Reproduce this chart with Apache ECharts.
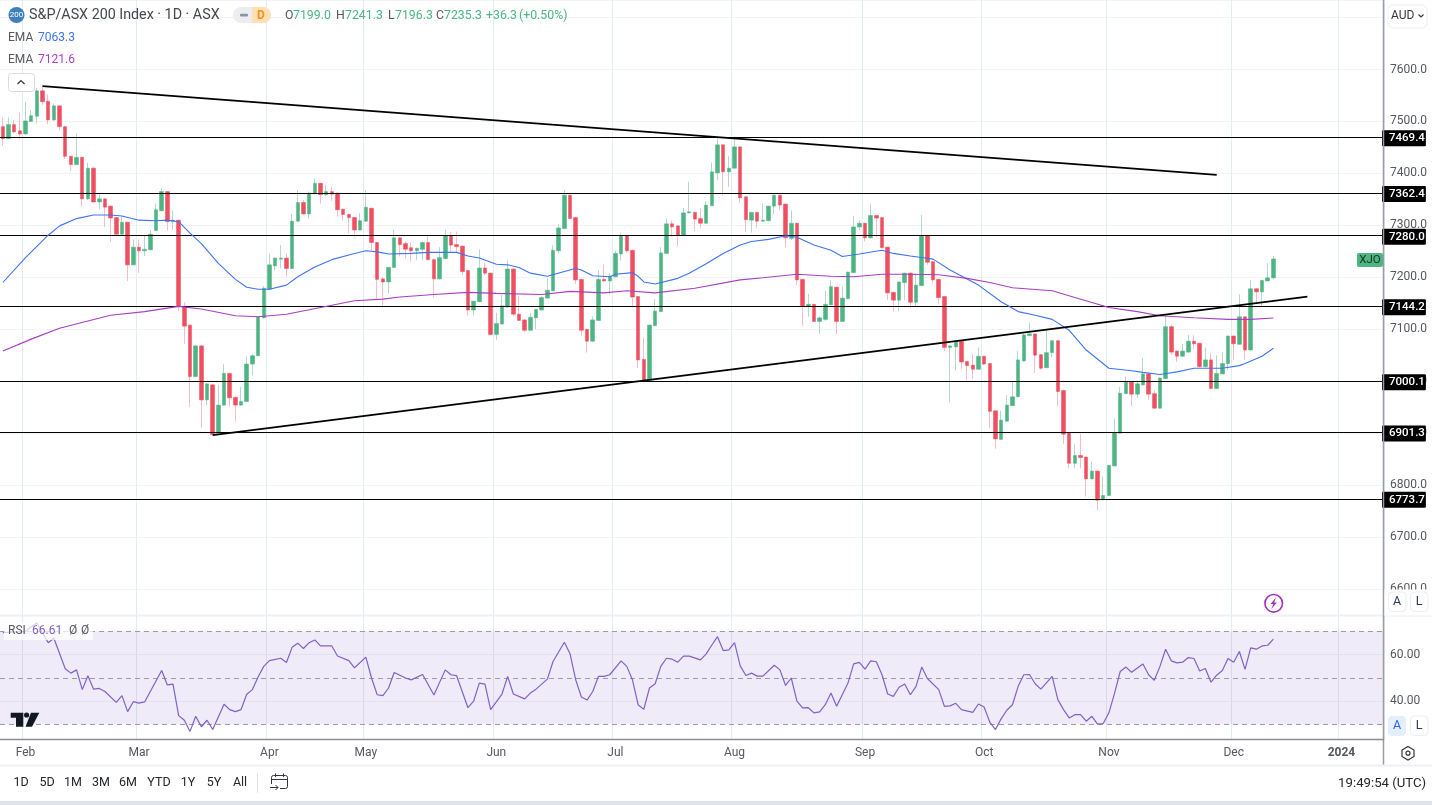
<!DOCTYPE html>
<html>
<head>
<meta charset="utf-8">
<title>S&amp;P/ASX 200 Index</title>
<style>html,body{margin:0;padding:0;background:#fff}#c{width:1432px;height:805px}</style>
<script src="https://cdn.jsdelivr.net/npm/echarts@6/dist/echarts.min.js"></script>
</head>
<body>
<div id="c"></div>
<script>
const opens = [
7490,7467,7494,7482,7476,7500,7510,7559,7539,7503,
7530,7490,7433,7417,7431,7351,7410,7345,7351,7337,
7315,7283,7306,7224,7258,7251,7253,7290,7328,7365,
7307,7310,7144,7108,7009,7068,6964,6993,6900,6954,
7015,6969,6954,6961,7033,7049,7122,7177,7222,7235,
7237,7217,7308,7344,7322,7362,7381,7359,7365,7362,
7331,7321,7315,7291,7308,7333,7267,7197,7191,7219,
7276,7265,7257,7251,7254,7267,7234,7197,7236,7280,
7263,7260,7213,7137,7153,7218,7208,7090,7110,7143,
7216,7129,7118,7098,7122,7137,7160,7174,7251,7294,
7358,7315,7196,7100,7077,7117,7196,7193,7201,7245,
7280,7252,7163,7042,7002,7107,7134,7246,7303,7299,
7281,7324,7325,7313,7304,7338,7401,7455,7403,7410,
7451,7355,7310,7325,7308,7309,7337,7358,7341,7275,
7304,7196,7144,7148,7115,7119,7147,7181,7115,7159,
7209,7297,7304,7276,7319,7315,7258,7171,7156,7190,
7208,7152,7184,7280,7230,7196,7163,7065,7066,7077,
7038,7031,7023,7048,7034,6943,6888,6923,6953,6970,
7039,7088,7091,7051,7026,7055,7078,6982,6900,6842,
6857,6854,6812,6827,6772,6780,6837,6900,6976,6998,
6975,6993,7014,6976,6948,7005,7105,7058,7048,7056,
7077,7073,7028,7041,6986,7014,7034,7087,7071,7124,
7060,7178,7172,7193,7199.0];
const closes = [
7467,7494,7480,7476,7501,7511,7559,7538,7503,7530,
7490,7433,7417,7431,7351,7410,7345,7351,7335,7314,
7283,7306,7224,7258,7251,7254,7283,7330,7365,7307,
7310,7144,7106,7009,7068,6964,6995,6897,6954,7015,
6968,6954,6961,7033,7049,7124,7179,7224,7237,7237,
7217,7308,7344,7322,7362,7381,7359,7365,7360,7330,
7321,7315,7291,7309,7335,7267,7196,7191,7219,7276,
7263,7254,7251,7256,7267,7234,7197,7238,7280,7262,
7259,7211,7137,7154,7218,7208,7090,7111,7145,7216,
7129,7117,7098,7123,7138,7161,7175,7252,7295,7358,
7313,7195,7098,7077,7118,7196,7193,7202,7246,7280,
7251,7162,7041,7001,7108,7135,7247,7303,7297,7281,
7324,7326,7312,7304,7339,7403,7455,7403,7410,7451,
7353,7311,7325,7308,7310,7337,7358,7339,7276,7304,
7195,7144,7148,7115,7122,7148,7182,7115,7160,7210,
7297,7304,7276,7319,7314,7257,7170,7156,7191,7208,
7152,7185,7280,7229,7195,7161,7065,7068,7077,7037,
7030,7023,7048,7033,6942,6889,6925,6954,6970,7041,
7089,7091,7050,7025,7055,7078,6980,6898,6842,6857,
6853,6812,6827,6771,6780,6838,6901,6977,6998,6975,
6995,7014,6975,6948,7006,7105,7056,7048,7058,7077,
7072,7028,7041,6986,7015,7034,7087,7072,7124,7060,
7178,7172,7194,7199,7235.3];
const lows = [
7453,7466,7477,7466,7475,7499,7496,7532,7495,7501,
7483,7428,7405,7416,7336,7349,7344,7331,7297,7268,
7282,7282,7193,7223,7208,7241,7252,7289,7327,7290,
7291,7134,7072,6951,7008,6911,6954,6895,6897,6953,
6951,6923,6953,6960,7011,7048,7121,7176,7213,7217,
7201,7216,7307,7321,7313,7361,7342,7356,7347,7317,
7310,7285,7275,7290,7307,7252,7159,7142,7168,7218,
7240,7236,7230,7233,7233,7233,7161,7196,7235,7249,
7248,7204,7127,7127,7152,7204,7089,7079,7109,7142,
7125,7116,7094,7097,7100,7136,7159,7173,7246,7293,
7312,7187,7088,7055,7076,7116,7190,7166,7200,7232,
7247,7145,7025,7000,7001,7106,7133,7245,7279,7260,
7280,7323,7289,7294,7303,7337,7387,7357,7374,7409,
7344,7287,7286,7295,7307,7308,7322,7329,7258,7272,
7185,7107,7124,7114,7091,7116,7146,7091,7114,7158,
7208,7291,7269,7275,7277,7256,7156,7134,7134,7156,
7140,7145,7183,7224,7188,7149,7058,6959,7021,7023,
7002,7004,7022,7031,6909,6870,6887,6922,6952,6969,
7038,7086,7016,7022,7025,7046,6952,6879,6832,6832,
6832,6778,6811,6751,6770,6779,6836,6899,6975,6953,
6968,6992,6964,6947,6947,7004,7050,7037,7047,7055,
7062,7027,7027,6985,6985,7013,7021,7041,7070,7041,
7059,7151,7143,7192,7196.3];
const highs = [
7508,7508,7503,7517,7538,7522,7564,7568,7552,7535,
7531,7491,7434,7477,7432,7421,7413,7362,7352,7338,
7316,7317,7307,7273,7273,7281,7291,7342,7371,7366,
7328,7311,7152,7109,7069,7069,6996,6994,6993,7033,
7016,6970,6989,7047,7052,7125,7183,7246,7238,7262,
7246,7322,7368,7349,7365,7390,7382,7378,7374,7363,
7332,7322,7316,7323,7368,7334,7268,7201,7220,7292,
7277,7269,7267,7257,7269,7281,7235,7258,7292,7288,
7288,7261,7214,7155,7254,7228,7209,7132,7166,7233,
7217,7164,7119,7131,7139,7164,7198,7262,7303,7368,
7359,7316,7197,7101,7125,7214,7224,7208,7251,7286,
7281,7253,7164,7084,7109,7158,7258,7313,7309,7300,
7333,7384,7326,7333,7346,7421,7472,7456,7433,7471,
7452,7356,7326,7326,7342,7338,7359,7359,7342,7329,
7305,7197,7168,7149,7125,7174,7195,7182,7182,7211,
7318,7310,7305,7341,7320,7316,7259,7172,7192,7209,
7209,7208,7320,7281,7231,7197,7164,7069,7079,7078,
7039,7052,7065,7049,7035,6944,6943,6973,6999,7058,
7095,7113,7092,7052,7100,7079,7079,6983,6901,6879,
6898,6855,6845,6828,6816,6839,6928,6989,7009,6999,
6999,7045,7015,6982,7007,7127,7108,7059,7072,7089,
7089,7074,7065,7054,7050,7056,7088,7088,7167,7125,
7195,7179,7195,7227,7241.3];

// EMA read at the candle numbers listed beside them
const emaFastIdx = [0,4,8,10,13,16,19,21,24,27,29,31,33,35,38,41,43,45,47,50,52,55,58,61,64,66,68,72,75,80,82,84,87,89,91,93,96,99,101,102,104,107,108,111,112,113,115,119,121,124,127,130,132,135,138,140,143,146,148,151,155,157,160,162,164,167,172,176,179,182,185,188,191,195,199,201,204,207,210,215,218,219,222,224];
const emaFastVals = [7190,7238,7281,7299,7313,7320,7320,7318,7310,7309,7310,7307,7285,7265,7227,7196,7181,7177,7177,7185,7201,7220,7234,7243,7251,7249,7245,7246,7248,7248,7241,7237,7225,7224,7219,7208,7202,7211,7217,7214,7203,7201,7206,7209,7202,7191,7187,7198,7208,7226,7246,7262,7269,7273,7280,7277,7262,7252,7240,7245,7252,7246,7241,7238,7235,7214,7185,7153,7134,7127,7119,7098,7060,7025,7020,7017,7013,7018,7025,7025,7030,7034,7048,7063.3];
const emaSlowIdx = [0,5,10,15,19,25,31,35,41,45,50,56,62,67,70,76,82,87,95,100,106,110,115,122,130,134,140,146,150,155,160,165,170,174,178,185,189,195,200,204,210,216,220,224];
const emaSlowVals = [7058,7081,7102,7116,7127,7134,7144,7139,7126,7124,7129,7142,7155,7158,7162,7167,7171,7169,7167,7173,7170,7174,7170,7179,7195,7199,7206,7202,7201,7206,7206,7205,7198,7190,7180,7174,7161,7142,7134,7126,7122,7119,7119,7121.6];

const rsiIdx = [0,4,6,8,9,11,12,13,14,15,16,17,18,20,21,22,23,24,25,26,28,29,30,31,32,33,34,35,36,37,39,40,41,42,43,44,45,46,47,49,50,51,52,53,54,55,56,58,59,61,62,64,65,66,67,68,69,71,72,74,76,78,79,80,82,83,84,85,86,88,89,90,92,93,94,96,97,99,100,101,102,103,104,105,106,107,109,110,111,112,113,114,115,116,117,118,119,120,121,123,124,125,126,127,128,129,130,131,132,133,134,136,137,138,139,140,141,142,143,144,145,146,147,149,150,151,152,153,154,155,156,157,158,159,160,161,162,163,165,166,167,168,169,171,172,173,174,175,176,177,178,179,180,181,182,183,185,186,187,188,189,190,191,192,193,194,195,196,197,198,199,201,202,203,204,205,206,207,208,209,210,211,212,213,214,215,216,217,218,219,220,221,222,223,224];
const rsiVals = [69.4,70,73.7,65.1,67,53.9,52,53.4,44.9,50.9,45.1,45.4,44.1,39.4,42.3,35.4,39.7,39.1,39.6,44.1,53.1,46.9,47.3,33.7,31.7,26.9,33.4,28.9,31.7,27.7,38.6,36.3,35.4,36.3,42.9,44.9,50.3,54.9,57.4,58.4,56.6,63.1,64.9,62.6,65.1,66.3,63.7,63.7,59.4,57.4,54.3,58.9,49.9,42.7,42.3,45.6,52.3,49.9,49.1,51.4,42.6,53.4,51.3,50.9,37.1,39.9,47.7,47.3,36.3,43,50.6,43,40.9,43.4,45.1,49.4,57,65.3,60.3,49.1,41.7,40.4,44.1,50.6,50.6,51.3,57.3,54.9,49.1,38.4,36.4,45.6,47.4,54.9,58.4,58,56.7,59.3,59.3,57.7,60.3,64.1,67.7,61.7,62,65.1,55.1,51,52,50.7,50.7,55.4,53.4,46.7,49.9,39.9,37,37.1,34.9,35.3,38.4,43.4,37.7,47.7,56,56.6,53.7,57.3,56.9,51.3,43,42,45.9,47.3,42.7,46.3,54.6,49.7,44.9,37.7,37.9,39,36.3,35.1,38.7,37.4,30.9,27.7,32.3,36,38.4,46.3,51.3,51.4,47.4,45.1,50.6,40.6,36.3,32.7,34.1,34.1,31.3,33.4,30,30.3,34.9,43.4,52.7,54.6,52.4,55.9,51.3,48.9,54.9,62.3,57.3,56.4,56.7,58.7,58.3,52.9,54,48.1,51.1,53.1,58.3,56.7,61.3,53.6,62.9,62.3,63.7,64,66.61];

const levels = [7469.4,7362.4,7280.0,7144.2,7000.1,6901.3,6773.7];
const resistanceLine = [[7,7568],[214,7397]];
const supportLine = [[37,6896],[230,7163]];
const monthIdx = [4,24,47,64,87,108,129,152,173,195,217,236];
const monthLabels = ['Feb','Mar','Apr','May','Jun','Jul','Aug','Sep','Oct','Nov','Dec','2024'];
const rsiGuidesDashed = [70,50,30];
const rsiGuidesSolid = [60,40];
const rsiTicks = [40,60];

// trading calendar (ASX holidays skipped) running past the last candle
const holidays = ['2023-01-26','2023-04-07','2023-04-10','2023-04-25','2023-06-12','2023-12-25','2023-12-26','2024-01-01'];
const categories = [];
for (let t = Date.UTC(2023,0,25); categories.length < 244; t += 86400000) {
  const d = new Date(t), s = d.toISOString().slice(0,10), w = d.getUTCDay();
  if (w !== 0 && w !== 6 && !holidays.includes(s)) categories.push(s);
}

const FONT = 'Roboto, "Liberation Sans", sans-serif';
const GREEN = '#4cb583', RED = '#ef4f60', GREEN_W = '#b4d9ca', RED_W = '#f8bcc4';
const BLUE = '#3d74f5', PURPLE = '#a83fc0', RSI = '#8160c8';
const TXT = '#55585f';

const wickData = opens.map((o,i) => [o, closes[i], lows[i], highs[i]]);
const bodyData = opens.map((o,i) => [o, closes[i], Math.min(o,closes[i]), Math.max(o,closes[i])]);
const pairs = (a,b) => a.map((x,i) => [x,b[i]]);

const X = {left:-1.14, width:1385.14};
const hiddenX = g => ({type:'category', gridIndex:g, data:categories, boundaryGap:true, show:false});
const isMonth = (i) => monthIdx.includes(i);

const t = (x,y,text,o={}) => ({type:'text', z:100, x, y:y+0.8, silent:true, style:Object.assign({
  text, fill:TXT, fontFamily:FONT, fontSize:12, textVerticalAlign:'middle', verticalAlign:'middle'}, o)});
const r = (x,y,w,h,fill,stroke,rad=0) => ({type:'rect', z:99, silent:true,
  shape:{x,y,width:w,height:h,r:rad}, style:{fill:fill||'none', stroke:stroke||'none', lineWidth:1}});
const l = (x1,y1,x2,y2,c,w=1) => ({type:'line', z:98, silent:true, shape:{x1,y1,x2,y2}, style:{stroke:c,lineWidth:w}});

const ohlc = [[285,'O',TXT],[293,'7199.0',GREEN],[336,'H',TXT],[345,'7241.3',GREEN],[388,'L',TXT],[395,'7196.3',GREEN],[436,'C',TXT],[444,'7235.3',GREEN],[486,'+36.3',GREEN],[519,'(+0.50%)',GREEN]];
const ranges = [[21,'1D'],[47,'5D'],[73,'1M'],[101,'3M'],[128,'6M'],[159,'YTD'],[188,'1Y'],[214,'5Y'],[240,'All']];

const graphics = [
  // panel frames
  r(1384.5,589.5,48,26,'#fff'),
  l(0,615.5,1432,615.5,'#eef0f5',2),
  l(1383.5,0,1383.5,765,'#9a9da3',1.5),
  l(0,739.5,1384,739.5,'#8a8d93',1.5),
  l(0,765.5,1432,765.5,'#eef0f5',2),
  r(0,801,1432,4,'#e0e3eb'),
  // header
  {type:'circle',z:99,silent:true,shape:{cx:16.5,cy:15,r:8},style:{fill:'#3f7fbe'}},
  t(16.5,14.2,'200',{fill:'#fff',fontSize:8,align:'center',textAlign:'center'}),
  t(29,14.7,'S&P/ASX 200 Index · 1D · ASX',{fontSize:14.3,fill:'#44474e'}),
  r(233,7,38,16,'#ebedf0',null,8),
  r(252,7,19,16,'#ffe0b5',null,[0,8,8,0]),
  r(240,13.8,8,2.8,'#8f939a',null,1),
  t(261,14.7,'D',{fill:'#f7921e',fontSize:12,fontWeight:'bold',align:'center',textAlign:'center'}),
  ...ohlc.map(([x,s,c]) => t(x,14.7,s,{fill:c,fontSize:12.3})),
  t(8,37.5,'EMA',{fontSize:12}), t(38,37.5,'7063.3',{fill:'#3d74f5',fontSize:12}),
  t(8,59.5,'EMA',{fontSize:12}), t(38,59.5,'7121.6',{fill:'#a83fc0',fontSize:12}),
  r(8.5,73.5,26,18,'#fff','#d8dbe0',3),
  {type:'polyline',z:100,silent:true,shape:{points:[[17.5,84],[21,80.5],[24.5,84]]},style:{fill:'none',stroke:'#333',lineWidth:1.2}},
  // right axis furniture
  r(1388,5,39,23,'#fff','#eceef2',5),
  t(1391,15,'AUD',{fontSize:12,fill:'#33363d'}),
  {type:'polyline',z:100,silent:true,shape:{points:[[1418.5,14.5],[1421,17],[1423.5,14.5]]},style:{fill:'none',stroke:'#33363d',lineWidth:1.1}},
  r(1357,253,26,14,GREEN,null,2),
  t(1370,259.7,'XJO',{fill:'#17341f',fontSize:11.5,align:'center',textAlign:'center'}),
  r(1388.5,592,17.5,19.5,'#fff','#eceef2',4),
  t(1397.2,601.2,'A',{fontSize:12.5,fill:'#2c3a55',align:'center',textAlign:'center'}),
  r(1410.5,592,17.5,19.5,'#fff','#eceef2',4),
  t(1419.2,601.2,'L',{fontSize:12.5,fill:'#2c3a55',align:'center',textAlign:'center'}),
  r(1388,716,18,20,'#e3effd',null,4),
  t(1397,725.2,'A',{fontSize:12.5,fill:'#2962ff',align:'center',textAlign:'center'}),
  r(1410.5,716,17.5,19.5,'#fff','#eceef2',4),
  t(1419.2,725.2,'L',{fontSize:12.5,fill:'#2c3a55',align:'center',textAlign:'center'}),
  {type:'polygon',z:100,silent:true,shape:{points:[[1408,746.5],[1414,750],[1414,756.5],[1408,760],[1402,756.5],[1402,750]]},style:{fill:'none',stroke:'#33363d',lineWidth:1.2}},
  {type:'circle',z:100,silent:true,shape:{cx:1408,cy:753.2,r:2},style:{fill:'none',stroke:'#33363d',lineWidth:1.2}},
  // lightning badge
  {type:'circle',z:100,silent:true,shape:{cx:1273.7,cy:603.3,r:8.8},style:{fill:'#fff',stroke:'#a52fbd',lineWidth:1.6}},
  {type:'polygon',z:100,silent:true,shape:{points:[[1276,597.5],[1270.5,604],[1273.3,604],[1271.3,609],[1277,602.5],[1274.2,602.5]]},style:{fill:'#a52fbd'}},
  // RSI legend
  r(4,622,89,18,'rgba(255,255,255,0.72)'),
  t(8,630.5,'RSI',{fontSize:12}),
  t(32,630.5,'66.61',{fill:'#8160c8',fontSize:12}),
  t(69,630.5,'Ø',{fontSize:12}),
  t(81,630.5,'Ø',{fontSize:12}),
  // TradingView mark
  {type:'polygon',z:100,silent:true,shape:{points:[[10.7,712.7],[23.3,712.7],[23.3,726.7],[16,726.7],[16,717.7],[10.7,717.7]]},style:{fill:'#131722'}},
  {type:'circle',z:100,silent:true,shape:{cx:26.6,cy:715,r:2.6},style:{fill:'#131722'}},
  {type:'polygon',z:100,silent:true,shape:{points:[[31,712.7],[39.3,712.7],[32,726.7],[25.5,726.7]]},style:{fill:'#131722'}},
  // range toolbar
  ...ranges.map(([x,s]) => t(x,782.5,s,{fontSize:12.5,fill:'#23262d',align:'center',textAlign:'center'})),
  l(257.5,773,257.5,793,'#e0e3eb'),
  r(271.5,775.5,16,13,'none','#33363d',2),
  l(271.5,779.5,287.5,779.5,'#33363d'),
  l(275.5,773.5,275.5,777,'#33363d'), l(283.5,773.5,283.5,777,'#33363d'),
  r(268,784,12,8,'#fff'),
  {type:'polyline',z:100,silent:true,shape:{points:[[270,787.5],[278,787.5]]},style:{fill:'none',stroke:'#33363d',lineWidth:1}},
  {type:'polyline',z:100,silent:true,shape:{points:[[275.5,785],[278,787.5],[275.5,790]]},style:{fill:'none',stroke:'#33363d',lineWidth:1}},
  t(1426,782.5,'19:49:54 (UTC)',{fontSize:13.2,fill:'#23262d',align:'right',textAlign:'right'})
];

const option = {
  animation:false,
  backgroundColor:'#fff',
  textStyle:{fontFamily:FONT},
  grid:[
    Object.assign({top:0,height:740,containLabel:false},X),
    Object.assign({top:0,height:589,containLabel:false},X),
    Object.assign({top:616,height:124,containLabel:false},X)
  ],
  xAxis:[
    {type:'category',gridIndex:0,data:categories,boundaryGap:true,
      axisLine:{show:false},
      axisTick:{show:false,alignWithLabel:true,interval:isMonth},
      axisLabel:{interval:isMonth,margin:7,fontSize:12,color:TXT,fontFamily:FONT,hideOverlap:false,
        formatter:(v,i)=>{const k=monthIdx.indexOf(i);return k<0?'':(monthLabels[k]==='2024'?'{b|2024}':monthLabels[k]);},
        rich:{b:{fontWeight:'bold',fontSize:12,color:TXT,fontFamily:FONT}}},
      splitLine:{show:true,interval:isMonth,lineStyle:{color:'#e4ebf1',width:1}}},
    hiddenX(1),
    hiddenX(2)
  ],
  yAxis:[
    {type:'value',gridIndex:0,min:0,max:1,show:false},
    {type:'value',gridIndex:1,position:'right',min:6600,max:7733.8,interval:100,
      axisLine:{show:false},axisTick:{show:false},
      axisLabel:{margin:6,fontSize:12,color:TXT,fontFamily:FONT,padding:[4,0,0,0],
        formatter:(v)=>(Math.round(v)%100===0?v.toFixed(1):'')},
      splitLine:{show:true,lineStyle:{color:'#f0f3f7',width:1}}},
    {type:'value',gridIndex:2,position:'right',min:23.2,max:76.6,
      axisLine:{show:false},axisTick:{show:false},
      axisLabel:{margin:6,fontSize:12,color:TXT,fontFamily:FONT,padding:[4,0,0,0],customValues:rsiTicks,formatter:(v)=>v.toFixed(2)},
      splitLine:{show:false}}
  ],
  series:[
    {type:'candlestick',name:'wicks',xAxisIndex:1,yAxisIndex:1,data:wickData,barWidth:1,z:3,
      itemStyle:{color:GREEN_W,color0:RED_W,borderColor:GREEN_W,borderColor0:RED_W,borderWidth:1}},
    {type:'candlestick',name:'XJO',xAxisIndex:1,yAxisIndex:1,data:bodyData,barWidth:4,z:4,
      itemStyle:{color:GREEN,color0:RED,borderColor:GREEN,borderColor0:RED,borderWidth:0.5}},
    {type:'line',name:'EMA fast',xAxisIndex:1,yAxisIndex:1,data:pairs(emaFastIdx,emaFastVals),showSymbol:false,symbol:'none',z:5,
      lineStyle:{color:BLUE,width:1.1}},
    {type:'line',name:'EMA slow',xAxisIndex:1,yAxisIndex:1,data:pairs(emaSlowIdx,emaSlowVals),showSymbol:false,symbol:'none',z:5,
      lineStyle:{color:PURPLE,width:1.1}},
    {type:'line',name:'levels',xAxisIndex:1,yAxisIndex:1,data:[],z:6,
      markLine:{silent:true,symbol:'none',animation:false,precision:1,
        lineStyle:{color:'#000',width:1,type:'solid'},
        label:{position:'end',distance:0,offset:[-2,1],formatter:(p)=>Number(p.value).toFixed(1),color:'#fff',backgroundColor:'#000',
          fontSize:11.5,fontWeight:500,fontFamily:FONT,padding:[3,1,1,7],borderRadius:1},
        data:levels.map(v=>({yAxis:v}))}},
    {type:'line',name:'resistance',xAxisIndex:1,yAxisIndex:1,data:resistanceLine,showSymbol:false,symbol:'none',z:7,lineStyle:{color:'#000',width:1.8}},
    {type:'line',name:'support',xAxisIndex:1,yAxisIndex:1,data:supportLine,showSymbol:false,symbol:'none',z:7,lineStyle:{color:'#000',width:1.8}},
    {type:'line',name:'RSI',xAxisIndex:2,yAxisIndex:2,data:pairs(rsiIdx,rsiVals),showSymbol:false,symbol:'none',z:5,
      lineStyle:{color:RSI,width:1.2},
      markArea:{silent:true,itemStyle:{color:'rgba(126,87,194,0.12)'},data:[[{yAxis:70},{yAxis:30}]]},
      markLine:{silent:true,symbol:'none',animation:false,label:{show:false},
        data:[
          ...rsiGuidesSolid.map(v=>({yAxis:v,lineStyle:{color:'#e0e2ef',type:'solid',width:1}})),
          ...rsiGuidesDashed.map(v=>({yAxis:v,lineStyle:{color:'#9c9ca3',type:[5,4],width:1}}))
        ]}}
  ],
  graphic:{elements:graphics}
};
echarts.init(document.getElementById('c'),null,{renderer:'canvas'}).setOption(option);
</script>
</body>
</html>
